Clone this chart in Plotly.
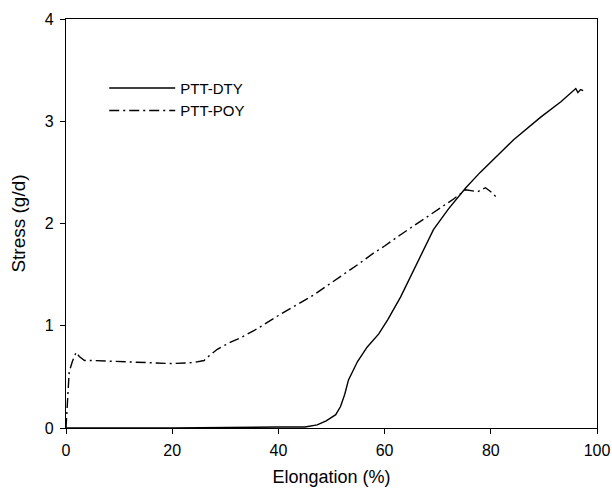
import plotly.graph_objects as go

# PTT-DTY (solid)
dty_x = [0, 20, 40, 45, 47.3, 49, 50.8, 51.7, 52.5, 53.2, 54.9, 56.7, 58.9, 60.6, 63.0, 66.0, 69.2, 72.0, 75.3, 78.0, 80.6, 84.3, 89.4, 93.2, 96.0, 96.4, 96.9, 97.4]
dty_y = [0, 0, 0.01, 0.01, 0.03, 0.07, 0.13, 0.21, 0.33, 0.47, 0.65, 0.79, 0.92, 1.06, 1.28, 1.60, 1.94, 2.14, 2.35, 2.50, 2.63, 2.82, 3.04, 3.19, 3.32, 3.28, 3.31, 3.30]

# PTT-POY (dash-dot)
poy_x = [0, 0.3, 0.6, 1.2, 1.9, 2.5, 3.5, 5, 10, 15, 20, 24, 26, 26.6, 28.5, 31.0, 32.8, 36, 40, 46.6, 50, 55, 57.9, 60, 63, 67, 70, 73, 75.3, 77.5, 79, 80, 81]
poy_y = [0, 0.35, 0.55, 0.65, 0.74, 0.70, 0.66, 0.66, 0.65, 0.64, 0.63, 0.64, 0.66, 0.69, 0.77, 0.84, 0.88, 0.97, 1.10, 1.30, 1.42, 1.60, 1.71, 1.78, 1.89, 2.03, 2.13, 2.24, 2.33, 2.31, 2.35, 2.31, 2.26]

x_ticks = [0, 20, 40, 60, 80, 100]
y_ticks = [0, 1, 2, 3, 4]

FONT = "Liberation Sans, Arial"

fig = go.Figure()
fig.add_trace(go.Scatter(x=dty_x, y=dty_y, mode="lines", name="PTT-DTY",
                         line=dict(color="black", width=1.4)))
fig.add_trace(go.Scatter(x=poy_x, y=poy_y, mode="lines", name="PTT-POY",
                         line=dict(color="black", width=1.4, dash="10px,4px,2px,4px")))

axis_common = dict(showline=True, linecolor="black", linewidth=1.2, mirror=True,
                   ticks="outside", ticklen=5, tickwidth=1, tickcolor="black",
                   showgrid=False, zeroline=False, automargin=False,
                   tickfont=dict(family=FONT, size=16, color="black"))

fig.update_layout(
    width=612, height=494,
    margin=dict(l=66, r=15, t=19, b=66),
    paper_bgcolor="white", plot_bgcolor="white",
    xaxis=dict(range=[0, 100], tickvals=x_ticks, ticklabelstandoff=3,
               title=dict(text="Elongation (%)", font=dict(family=FONT, size=18, color="black"), standoff=12),
               **axis_common),
    yaxis=dict(range=[0, 4], tickvals=y_ticks, ticklabelstandoff=3,
               title=dict(text="Stress (g/d)", font=dict(family=FONT, size=19, color="black"), standoff=14),
               **axis_common),
    legend=dict(x=0.072, y=0.871, xanchor="left", yanchor="top",
                bgcolor="rgba(0,0,0,0)", borderwidth=0,
                font=dict(family=FONT, size=15, color="black"),
                itemwidth=66),
    showlegend=True,
)

fig.write_html("out.html", config={"displayModeBar": False},
               post_script="document.body.style.margin='0';document.body.style.padding='0';document.body.style.overflow='hidden';")
